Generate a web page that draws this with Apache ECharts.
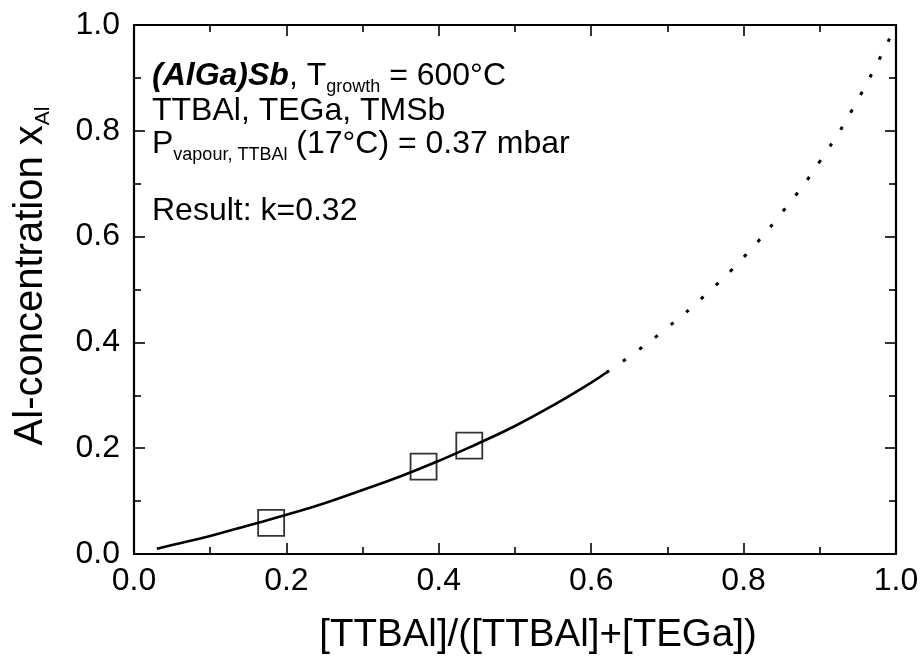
<!DOCTYPE html>
<html>
<head>
<meta charset="utf-8">
<script src="https://cdn.jsdelivr.net/npm/echarts@6/dist/echarts.min.js"></script>
<style>
html,body{margin:0;padding:0;background:#fff;}
#chart{width:922px;height:657px;}
</style>
</head>
<body>
<div id="chart"></div>
<script>
// Fitted curve (k = 0.32), solid part: ratio values and Al concentration
const fitX = [0.03, 0.05, 0.10, 0.15, 0.20, 0.25, 0.30, 0.35, 0.40, 0.45, 0.50, 0.55, 0.60, 0.62];
const fitY = [0.010, 0.017, 0.034, 0.054, 0.074, 0.096, 0.121, 0.147, 0.176, 0.208, 0.242, 0.281, 0.324, 0.343];
// Extrapolated (dotted) part
const extX = [0.62, 0.65, 0.70, 0.75, 0.80, 0.85, 0.90, 0.95, 1.00];
const extY = [0.343, 0.373, 0.428, 0.490, 0.561, 0.645, 0.742, 0.859, 1.000];
// Measured points
const measX = [0.18, 0.38, 0.44];
const measY = [0.059, 0.165, 0.205];
// Axis ticks
const axisMin = 0, axisMax = 1, majorStep = 0.2;

const pairs = (xs, ys) => xs.map((x, i) => [x, ys[i]]);
const FONT = '"Liberation Sans", Arial, Helvetica, sans-serif';

const chart = echarts.init(document.getElementById('chart'), null, {renderer: 'canvas'});

function axisBase(show) {
  return {
    type: 'value', min: axisMin, max: axisMax, interval: majorStep,
    axisLine: {show: true, onZero: false, lineStyle: {color: '#000', width: 2.2}},
    axisTick: {show: true, inside: true, length: 11, lineStyle: {color: '#000', width: 1.6}},
    minorTick: {show: true, splitNumber: 2, length: 7, lineStyle: {color: '#000', width: 1.6}},
    splitLine: {show: false},
    axisLabel: show ? {show: true, color: '#000', fontSize: 32, fontFamily: FONT,
      formatter: v => v.toFixed(1)} : {show: false}
  };
}

const xMain = Object.assign(axisBase(true), {position: 'bottom'});
xMain.axisLabel.margin = 11;
const yMain = Object.assign(axisBase(true), {position: 'left'});
yMain.axisLabel.margin = 14;
const xTop = Object.assign(axisBase(false), {position: 'top'});
const yRight = Object.assign(axisBase(false), {position: 'right'});

const normal = {fontSize: 32, fontFamily: FONT, color: '#000', lineHeight: 40, verticalAlign: 'middle'};
const sub = {fontSize: 18, fontFamily: FONT, color: '#000', verticalAlign: 'bottom'};

const option = {
  animation: false,
  backgroundColor: '#fff',
  grid: {left: 134, top: 25, width: 762, height: 529, containLabel: false},
  xAxis: [xMain, xTop],
  yAxis: [yMain, yRight],
  series: [
    {type: 'line', xAxisIndex: 0, yAxisIndex: 0, data: pairs(fitX, fitY), smooth: true,
     symbol: 'none', lineStyle: {color: '#000', width: 2.6}},
    {type: 'line', xAxisIndex: 0, yAxisIndex: 0, data: pairs(extX, extY), smooth: true,
     symbol: 'none', lineStyle: {color: '#000', width: 3, type: [3.5, 16.5], cap: 'butt'}},
    {type: 'scatter', xAxisIndex: 0, yAxisIndex: 0, data: pairs(measX, measY),
     symbol: 'rect', symbolSize: 26,
     itemStyle: {color: 'rgba(0,0,0,0)', borderColor: '#000', borderWidth: 1.8}}
  ],
  graphic: [
    {type: 'text', left: 152, top: 60, silent: true,
     style: {text: '{b|(AlGa)Sb}{n|, T}{s|growth}{n| = 600°C}', fontSize: 32, fontFamily: FONT, fill: '#000',
       rich: {
         b: Object.assign({}, normal, {fontWeight: 'bold', fontStyle: 'italic'}),
         n: normal,
         s: Object.assign({}, sub, {lineHeight: 22})
       }}},
    {type: 'text', left: 152, top: 95, silent: true,
     style: {text: '{n|TTBAl, TEGa, TMSb}', fontSize: 32, fontFamily: FONT, fill: '#000', rich: {n: normal}}},
    {type: 'text', left: 152, top: 128, silent: true,
     style: {text: '{n|P}{s|vapour, TTBAl}{n| (17°C) = 0.37 mbar}', fontSize: 32, fontFamily: FONT, fill: '#000',
       rich: {
         n: normal,
         s: Object.assign({}, sub, {lineHeight: 10})
       }}},
    {type: 'text', left: 152, top: 195, silent: true,
     style: {text: '{n|Result: k=0.32}', fontSize: 32, fontFamily: FONT, fill: '#000', rich: {n: normal}}},
    {type: 'text', x: 31, y: 276, rotation: Math.PI / 2, silent: true,
     style: {text: '{n|Al-concentration x}{s|Al}', align: 'center', verticalAlign: 'middle', fontSize: 40, fontFamily: FONT, fill: '#000',
       rich: {
         n: {fontSize: 40, fontFamily: FONT, color: '#000', lineHeight: 46, verticalAlign: 'middle'},
         s: {fontSize: 21, fontFamily: FONT, color: '#000', lineHeight: 32, verticalAlign: 'bottom'}
       }}},
    {type: 'text', x: 538, y: 635, silent: true,
     style: {text: '[TTBAl]/([TTBAl]+[TEGa])', align: 'center', verticalAlign: 'middle', fontSize: 38.5, fontFamily: FONT, fill: '#000'}}
  ]
};
chart.setOption(option);
</script>
</body>
</html>
